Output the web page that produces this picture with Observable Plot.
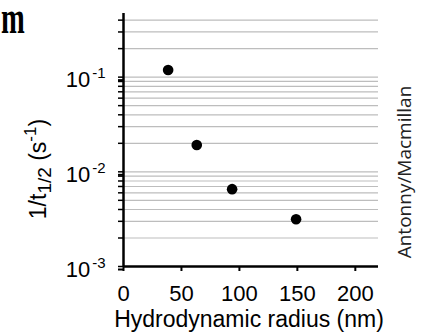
<!DOCTYPE html>
<html>
<head>
<meta charset="utf-8">
<script src="https://cdn.jsdelivr.net/npm/d3@7"></script>
<script src="https://cdn.jsdelivr.net/npm/@observablehq/plot@0.6"></script>
<style>
  body { margin: 0; background: #fff; }
  #chart { position: relative; width: 422px; height: 336px; overflow: hidden; }
  #chart svg { display: block; }
</style>
</head>
<body>
<div id="chart"></div>
<script>
// Data
const radius = [38.5, 63.2, 93.7, 148.9];           // hydrodynamic radius (nm)
const rate = [0.119, 0.0192, 0.00656, 0.00315];      // 1/t1/2 (s^-1)

// Ticks / labels
const xTicks = [0, 50, 100, 150, 200];
const yMajor = [0.001, 0.01, 0.1];
const yGrid = [0.002, 0.003, 0.004, 0.005, 0.006, 0.007, 0.008, 0.009,
               0.01, 0.02, 0.03, 0.04, 0.05, 0.06, 0.07, 0.08, 0.09,
               0.1, 0.2, 0.3, 0.4];
const yAllTicks = [0.001].concat(yGrid);
const xTitle = "Hydrodynamic radius (nm)";
const credit = "Antonny/Macmillan";
const panelText = "m";

const data = radius.map((r, i) => ({r, k: rate[i]}));

const plot = Plot.plot({
  width: 422,
  height: 336,
  marginLeft: 123,
  marginRight: 44,
  marginTop: 13,
  marginBottom: 70,
  style: {fontFamily: "'Liberation Sans', Arial, sans-serif", background: "white", color: "black"},
  x: {domain: [0, 220], label: null},
  y: {type: "log", domain: [0.001, 0.47], label: null},
  marks: [
    Plot.ruleY(yGrid, {stroke: "#bdbdbd", strokeWidth: 1.2}),
    Plot.axisY(yAllTicks, {tickSize: 5, strokeWidth: 1.5, tickFormat: () => "", label: null}),
    Plot.axisY(yMajor, {tickSize: 5, tickPadding: 13, fontSize: 22, strokeWidth: 2, dy: 3, label: null,
      tickFormat: d => "10^" + Math.round(Math.log10(d))}),
    Plot.axisX(xTicks, {tickSize: 5, tickPadding: 14, fontSize: 22, strokeWidth: 2, label: null}),
    Plot.ruleX([0], {stroke: "black", strokeWidth: 2.5}),
    Plot.ruleY([0.001], {stroke: "black", strokeWidth: 2.5}),
    Plot.dot(data, {x: "r", y: "k", r: 5.3, fill: "black", stroke: "none"})
  ]
});

document.getElementById("chart").appendChild(plot);
const svg = d3.select(plot);

// Superscript exponents on y tick labels
svg.selectAll('g[aria-label="y-axis tick label"] text').each(function () {
  const t = this.textContent;
  if (!t.startsWith("10^")) return;
  const exp = t.slice(3).replace("\u2212", "-");
  const sel = d3.select(this);
  sel.text("");
  sel.append("tspan").text("10");
  sel.append("tspan").attr("font-size", 15).attr("dy", -9).attr("dx", 2).text(exp);
});

// Y-axis title
const yl = svg.append("text")
  .attr("transform", "translate(46,169) rotate(-90)")
  .attr("text-anchor", "middle")
  .attr("font-size", 23)
  .attr("fill", "black");
yl.append("tspan").text("1/t");
yl.append("tspan").attr("font-size", 19).attr("dy", 5).text("1/2");
yl.append("tspan").attr("dy", -5).text(" (s");
yl.append("tspan").attr("font-size", 17).attr("dy", -10).text("-1");
yl.append("tspan").attr("dy", 10).text(")");

// X-axis title
svg.append("text")
  .attr("x", 249).attr("y", 327)
  .attr("text-anchor", "middle")
  .attr("font-size", 23)
  .attr("fill", "black")
  .text(xTitle);

// Credit
svg.append("text")
  .attr("transform", "translate(411,172) rotate(-90)")
  .attr("text-anchor", "middle")
  .attr("font-family", "'Open Sans', sans-serif")
  .attr("font-size", 19)
  .attr("fill", "#222")
  .text(credit);

// Panel letter
svg.append("text")
  .attr("transform", "translate(1,33) scale(0.62,1)")
  .attr("text-anchor", "start")
  .attr("font-family", "'Liberation Serif', serif")
  .attr("font-weight", "bold")
  .attr("font-size", 46)
  .attr("fill", "black")
  .text(panelText);
</script>
</body>
</html>
